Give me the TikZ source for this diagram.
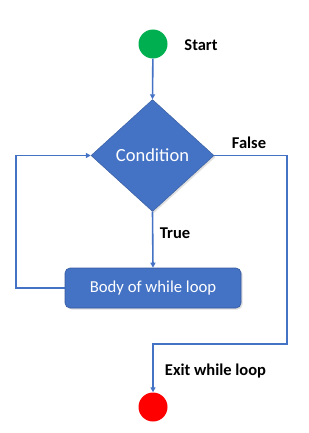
\documentclass[tikz,border=0pt]{standalone}
\usepackage{fontspec}
\setmainfont{Carlito}
\usetikzlibrary{shapes.geometric,arrows.meta,shadows}
\definecolor{fblue}{HTML}{4472C4}
\definecolor{fgreen}{HTML}{00B050}
\definecolor{fred}{HTML}{FF0000}
\begin{document}
\begin{tikzpicture}[x=1pt,y=-1pt,
  conn/.style={draw=fblue,line width=1.6pt,-{Triangle[length=5pt,width=5pt]}},
  plain/.style={draw=fblue,line width=1.6pt},
  term/.style={circle,minimum size=29pt,inner sep=0pt},
  lbl/.style={font=\fontsize{16.5}{18}\selectfont\bfseries,text=black,inner sep=0pt},
  shd/.style={drop shadow={opacity=0.25,shadow xshift=1.5pt,shadow yshift=-1.5pt}}]
\useasboundingbox (0,0) rectangle (308,433);
\node[term,fill=fgreen] (start) at (153,44) {};
\node[diamond,fill=fblue,draw=fblue!80!black,line width=0.4pt,inner sep=0pt,minimum width=123pt,minimum height=112pt,shd,text=white,font=\fontsize{18.5}{20}\selectfont] (cond) at (152.5,155.5) {Condition};
\node[rectangle,rounded corners=5pt,fill=fblue,draw=fblue!80!black,line width=0.6pt,minimum width=176pt,minimum height=40pt,inner sep=0pt,shd,text=white,font=\fontsize{16.7}{18}\selectfont] (body) at (153,288) {Body of while loop};
\node[term,fill=fred] (stop) at (153,407) {};
\coordinate (lp) at (16,288);
\coordinate (rp) at (287,344);
\draw[conn] (start) -- (cond.north);
\draw[conn] (cond.south) -- (body.north);
\draw[conn] (body.west) -- (lp) |- (cond.west);
\draw[conn] (cond.east) -| (rp) -| (stop.north);
\node[lbl] (lstart) at (201,45) {Start};
\node[lbl] (lfalse) at (249,143) {False};
\node[lbl] (ltrue) at (175,233) {True};
\node[lbl] (lexit) at (215.5,371) {Exit while loop};
\end{tikzpicture}
\end{document}
